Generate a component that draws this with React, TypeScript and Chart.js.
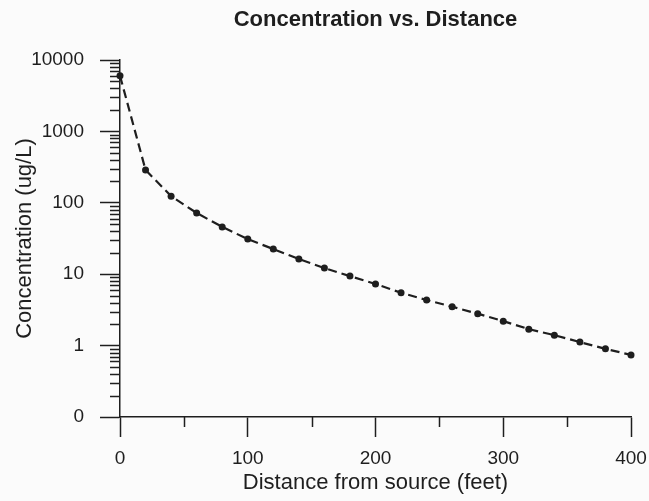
import React, { useEffect, useRef } from 'react';
import { Chart, registerables } from 'chart.js';

Chart.register(...registerables);

// ---- data ----
const distanceFeet = [0, 20, 40, 60, 80, 100, 120, 140, 160, 180, 200, 220, 240, 260, 280, 300, 320, 340, 360, 380, 400];
const concentrationUgL = [6000, 288, 124, 72, 46, 31, 22.5, 16.3, 12.2, 9.4, 7.3, 5.5, 4.35, 3.5, 2.8, 2.2, 1.7, 1.4, 1.12, 0.9, 0.74];

const xMajorTicks = [0, 100, 200, 300, 400];
const xMinorTicks = [50, 150, 250, 350];
const yMajorTicks = [0.1, 1, 10, 100, 1000, 10000];
const yTickLabels = ['0', '1', '10', '100', '1000', '10000'];
const yMinorMultipliers = [2, 3, 4, 5, 6, 7, 8, 9];

const chartTitle = 'Concentration vs. Distance';
const xTitle = 'Distance from source (feet)';
const yTitle = 'Concentration (ug/L)';

const FONT = "'Liberation Sans', Arial, Helvetica, sans-serif";
const INK = '#1e1e1e';

const backgroundPlugin = {
  id: 'bg',
  beforeDraw(chart: any) {
    const { ctx, width, height } = chart;
    ctx.save();
    ctx.fillStyle = '#fbfbfb';
    ctx.fillRect(0, 0, width, height);
    ctx.restore();
  },
};

const minorTicksPlugin = {
  id: 'minorTicks',
  afterDraw(chart: any) {
    const { ctx, chartArea, scales } = chart;
    const x = scales.x;
    const y = scales.y;
    ctx.save();
    ctx.strokeStyle = INK;
    ctx.lineWidth = 1.5;
    ctx.beginPath();
    xMinorTicks.forEach((v) => {
      const px = Math.round(x.getPixelForValue(v)) + 0.5;
      ctx.moveTo(px, chartArea.bottom);
      ctx.lineTo(px, chartArea.bottom + 10);
    });
    for (let i = 0; i < yMajorTicks.length - 1; i++) {
      yMinorMultipliers.forEach((m) => {
        const v = yMajorTicks[i] * m;
        const py = Math.round(y.getPixelForValue(v)) + 0.5;
        ctx.moveTo(chartArea.left - 10, py);
        ctx.lineTo(chartArea.left, py);
      });
    }
    ctx.stroke();
    ctx.restore();
  },
};

export default function App() {
  const ref = useRef<HTMLCanvasElement>(null);

  useEffect(() => {
    if (!ref.current) return;
    const chart = new Chart(ref.current, {
      type: 'line',
      data: {
        datasets: [
          {
            data: distanceFeet.map((d, i) => ({ x: d, y: concentrationUgL[i] })),
            borderColor: INK,
            backgroundColor: INK,
            borderWidth: 2.2,
            borderDash: [9, 5],
            pointRadius: 3.5,
            pointBorderWidth: 0,
            pointBackgroundColor: INK,
            tension: 0,
            fill: false,
            clip: false as any,
          },
        ],
      },
      plugins: [backgroundPlugin, minorTicksPlugin],
      options: {
        animation: false,
        responsive: false,
        devicePixelRatio: 1,
        layout: { padding: { left: 0, right: 18, top: 0, bottom: 0 } },
        plugins: {
          legend: { display: false },
          tooltip: { enabled: false },
          title: {
            display: true,
            text: chartTitle,
            fullSize: false,
            color: INK,
            font: { family: FONT, size: 22, weight: 'bold' },
            padding: { top: 7, bottom: 26.6 },
          },
        },
        scales: {
          x: {
            type: 'linear',
            min: 0,
            max: 400,
            afterBuildTicks: (scale: any) => {
              scale.ticks = xMajorTicks.map((v) => ({ value: v }));
            },
            afterFit: (scale: any) => {
              scale.height = 84;
              scale.paddingLeft = 0;
              scale.paddingRight = 0;
            },
            ticks: {
              autoSkip: false,
              maxRotation: 0,
              color: INK,
              padding: 10,
              font: { family: FONT, size: 19 },
            },
            grid: {
              display: true,
              drawOnChartArea: false,
              drawTicks: true,
              tickLength: 20,
              tickColor: INK,
              tickWidth: 1.5,
            },
            border: { display: true, color: INK, width: 1.5 },
            title: {
              display: true,
              text: xTitle,
              color: INK,
              font: { family: FONT, size: 22 },
              padding: { top: 0, bottom: 5 },
            },
          },
          y: {
            type: 'logarithmic',
            min: 0.1,
            max: 10000,
            afterBuildTicks: (scale: any) => {
              scale.ticks = yMajorTicks.map((v) => ({ value: v, major: true }));
            },
            afterFit: (scale: any) => {
              scale.width = 120;
              scale.paddingTop = 0;
              scale.paddingBottom = 0;
            },
            ticks: {
              autoSkip: false,
              color: INK,
              padding: 16,
              font: { family: FONT, size: 19 },
              callback: (value: any) => {
                const idx = yMajorTicks.findIndex((t) => Math.abs(t - Number(value)) < 1e-9);
                return idx >= 0 ? yTickLabels[idx] : '';
              },
            },
            grid: {
              display: true,
              drawOnChartArea: false,
              drawTicks: true,
              tickLength: 20,
              tickColor: INK,
              tickWidth: 1.5,
            },
            border: { display: true, color: INK, width: 1.5 },
            title: {
              display: true,
              text: yTitle,
              color: INK,
              font: { family: FONT, size: 22 },
              padding: { top: 12, bottom: 0 },
            },
          },
        },
      } as any,
    });
    return () => chart.destroy();
  }, []);

  return (
    <div style={{ position: 'fixed', left: 0, top: 0, width: 649, height: 501, background: '#fbfbfb' }}>
      <canvas ref={ref} width={649} height={501} style={{ display: 'block', width: 649, height: 501 }} />
    </div>
  );
}
